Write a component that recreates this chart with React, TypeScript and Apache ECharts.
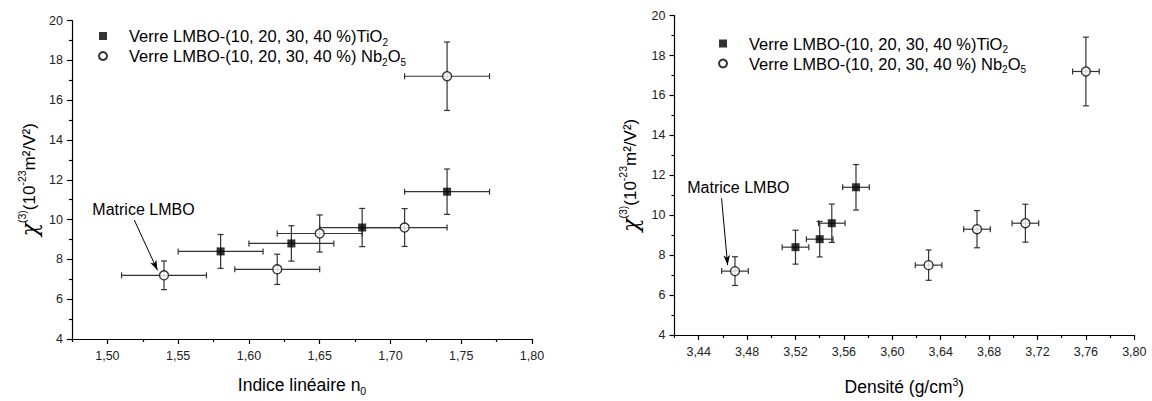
import { useEffect, useRef } from "react";
import * as echarts from "echarts";

// ---- data ----
const indiceTiO2 = [1.58, 1.63, 1.68, 1.74];
const indiceNb2O5 = [1.54, 1.62, 1.65, 1.71, 1.74];
const densiteTiO2 = [3.52, 3.54, 3.55, 3.57];
const densiteNb2O5 = [3.47, 3.63, 3.67, 3.71, 3.76];
const chiTiO2 = [8.4, 8.8, 9.6, 11.4];
const chiErrTiO2 = [0.85, 0.89, 0.96, 1.14];
const chiNb2O5 = [7.2, 7.5, 9.3, 9.6, 17.2];
const chiErrNb2O5 = [0.72, 0.76, 0.93, 0.95, 1.72];
const indiceErr = 0.03;
const densiteErr = 0.011;

// ---- tick labels ----
const indiceTicks = [1.5, 1.55, 1.6, 1.65, 1.7, 1.75, 1.8];
const indiceMinorTicks = [1.475, 1.525, 1.575, 1.625, 1.675, 1.725, 1.775];
const densiteTicks = [3.44, 3.48, 3.52, 3.56, 3.6, 3.64, 3.68, 3.72, 3.76, 3.8];
const densiteMinorTicks = [3.42, 3.46, 3.5, 3.54, 3.58, 3.62, 3.66, 3.7, 3.74, 3.78];

// annotation anchors (data space)
const matriceLeft = { text: [1.5255, 10.52], from: [1.519, 9.975], to: [1.5354, 7.45] };
const matriceRight = { text: [3.4728, 11.41], from: [3.4589, 10.85], to: [3.4639, 7.5] };

const SER_TI = "Verre LMBO-(10, 20, 30, 40 %)TiO2";
const SER_NB = "Verre LMBO-(10, 20, 30, 40 %) Nb2O5";
const FONT = "'Liberation Sans', Arial, Helvetica, sans-serif";
const CHI_FONT = "'DejaVu Serif', 'DejaVu Sans', serif";
const INK = "#000";
const BAR = "#333";

const fmtComma = (v: number) => v.toFixed(2).replace(".", ",");

function errorSeries(name: string, xs: number[], ys: number[], xe: number, ye: number[], xi: number, yi: number) {
  return {
    type: "custom",
    name,
    xAxisIndex: xi,
    yAxisIndex: yi,
    z: 1,
    silent: true,
    encode: { x: 0, y: 1 },
    data: xs.map((x, i) => [x, ys[i], xe, ye[i]]),
    renderItem: (params: any, api: any) => {
      const x = api.value(0);
      const y = api.value(1);
      const dx = api.value(2);
      const dy = api.value(3);
      const top = api.coord([x, y + dy]);
      const bot = api.coord([x, y - dy]);
      const lft = api.coord([x - dx, y]);
      const rgt = api.coord([x + dx, y]);
      const cap = 3;
      const st = { stroke: BAR, lineWidth: 1.2, fill: "none" };
      const ln = (x1: number, y1: number, x2: number, y2: number) => ({
        type: "line",
        shape: { x1, y1, x2, y2 },
        style: st,
      });
      return {
        type: "group",
        children: [
          ln(top[0], top[1], bot[0], bot[1]),
          ln(top[0] - cap, top[1], top[0] + cap, top[1]),
          ln(bot[0] - cap, bot[1], bot[0] + cap, bot[1]),
          ln(lft[0], lft[1], rgt[0], rgt[1]),
          ln(lft[0], lft[1] - cap, lft[0], lft[1] + cap),
          ln(rgt[0], rgt[1] - cap, rgt[0], rgt[1] + cap),
        ],
      };
    },
  };
}

function scatterSeries(name: string, xs: number[], ys: number[], xi: number, yi: number, filled: boolean, extra: any = {}) {
  return {
    type: "scatter",
    name,
    xAxisIndex: xi,
    yAxisIndex: yi,
    z: 3,
    symbol: filled ? "rect" : "circle",
    symbolSize: filled ? 8 : 9,
    itemStyle: filled
      ? { color: INK }
      : { color: "#fff", borderColor: INK, borderWidth: 1.3 },
    data: xs.map((x, i) => [x, ys[i]]),
    ...extra,
  };
}

function annotation(a: { text: number[]; from: number[]; to: number[] }) {
  return {
    markLine: {
      silent: true,
      symbol: ["none", "arrow"],
      symbolSize: [5, 10],
      lineStyle: { color: INK, width: 1, type: "solid" },
      label: { show: false },
      data: [[{ coord: a.from }, { coord: a.to }]],
    },
    markPoint: {
      silent: true,
      symbol: "circle",
      symbolSize: 0,
      label: {
        show: true,
        position: "inside",
        formatter: "Matrice LMBO",
        color: INK,
        fontFamily: FONT,
        fontSize: 16,
      },
      data: [{ coord: a.text, value: 0 }],
    },
  };
}

const legendRich = {
  t: { fontSize: 16.5, fontFamily: FONT, color: INK, lineHeight: 22 },
  s: { fontSize: 10, fontFamily: FONT, color: INK, lineHeight: 10, verticalAlign: "bottom" },
};
const legendFmt = (name: string) =>
  name === SER_TI
    ? "{t|Verre LMBO-(10, 20, 30, 40 %)TiO}{s|2}"
    : "{t|Verre LMBO-(10, 20, 30, 40 %) Nb}{s|2}{t|O}{s|5}";

function makeLegend(left: number, top: number) {
  return {
    left,
    top,
    orient: "vertical",
    itemWidth: 8,
    itemHeight: 8,
    itemGap: 0.5,
    padding: 0,
    selectedMode: false,
    data: [
      { name: SER_TI, icon: "rect" },
      { name: SER_NB, icon: "circle" },
    ],
    formatter: legendFmt,
    textStyle: { padding: [0, 0, 0, 17], rich: legendRich },
  };
}

const yName = "{chi|χ}{sup|(3)}{t|(10}{sup|-23}{t|m²/V²)}";
const yNameStyle = {
  color: INK,
  rich: {
    chi: { fontSize: 22, fontFamily: CHI_FONT, fontStyle: "italic", color: INK, lineHeight: 26 },
    t: { fontSize: 17, fontFamily: FONT, color: INK, lineHeight: 26 },
    sup: { fontSize: 10.5, fontFamily: FONT, color: INK, lineHeight: 10, verticalAlign: "top" },
  },
};

function mainX(grid: number, min: number, max: number, ticks: number[], name: string, gap: number, rich: any) {
  return {
    type: "value",
    gridIndex: grid,
    position: "bottom",
    min,
    max,
    name,
    nameLocation: "middle",
    nameGap: gap,
    nameTextStyle: { color: INK, rich },
    axisLine: { show: true, onZero: false, lineStyle: { color: INK, width: 1.2 } },
    axisTick: { show: true, length: 5, customValues: ticks, lineStyle: { color: INK, width: 1.2 } },
    axisLabel: {
      show: true,
      customValues: ticks,
      formatter: fmtComma,
      color: "#222",
      fontFamily: FONT,
      fontSize: 12.5,
      margin: 10,
    },
    splitLine: { show: false },
  };
}

function minorX(grid: number, min: number, max: number, ticks: number[]) {
  return {
    type: "value",
    gridIndex: grid,
    position: "bottom",
    min,
    max,
    axisLine: { show: false, onZero: false },
    axisTick: { show: true, length: 3, customValues: ticks, lineStyle: { color: INK, width: 1.2 } },
    axisLabel: { show: false },
    splitLine: { show: false },
  };
}

function mainY(grid: number, gap: number) {
  return {
    type: "value",
    gridIndex: grid,
    min: 4,
    max: 20,
    interval: 2,
    name: yName,
    nameLocation: "middle",
    nameRotate: 90,
    nameGap: gap,
    nameTextStyle: yNameStyle,
    axisLine: { show: true, onZero: false, lineStyle: { color: INK, width: 1.2 } },
    axisTick: { show: true, length: 5, lineStyle: { color: INK, width: 1.2 } },
    minorTick: { show: true, splitNumber: 2, length: 3, lineStyle: { color: INK, width: 1.2 } },
    axisLabel: { color: "#222", fontFamily: FONT, fontSize: 12.5, margin: 9 },
    splitLine: { show: false },
    minorSplitLine: { show: false },
  };
}

const nameRich = {
  t: { fontSize: 17.5, fontFamily: FONT, color: INK, lineHeight: 22 },
  sub: { fontSize: 10.5, fontFamily: FONT, color: INK, lineHeight: 10, verticalAlign: "bottom" },
  sup: { fontSize: 10.5, fontFamily: FONT, color: INK, lineHeight: 10, verticalAlign: "top" },
};

export default function App() {
  const ref = useRef<HTMLDivElement>(null);
  useEffect(() => {
    if (!ref.current) return;
    const chart = echarts.init(ref.current, undefined, { renderer: "svg" });
    chart.setOption({
      animation: false,
      backgroundColor: "#fff",
      textStyle: { fontFamily: FONT },
      grid: [
        { left: 72, top: 20.5, width: 460, height: 323.2 },
        { left: 674.5, top: 15.6, width: 459.8, height: 321.4 },
      ],
      xAxis: [
        mainX(0, 1.475, 1.8, indiceTicks, "{t|Indice linéaire n}{sub|0}", 35, nameRich),
        minorX(0, 1.475, 1.8, indiceMinorTicks),
        mainX(1, 3.42, 3.8, densiteTicks, "{t|Densité (g/cm}{sup|3}{t|)}", 41, nameRich),
        minorX(1, 3.42, 3.8, densiteMinorTicks),
      ],
      yAxis: [mainY(0, 30), mainY(1, 31)],
      legend: [makeLegend(98, 27.5), makeLegend(718, 35)],
      series: [
        scatterSeries(SER_TI, indiceTiO2, chiTiO2, 0, 0, true),
        scatterSeries(SER_NB, indiceNb2O5, chiNb2O5, 0, 0, false, annotation(matriceLeft)),
        scatterSeries(SER_TI, densiteTiO2, chiTiO2, 2, 1, true),
        scatterSeries(SER_NB, densiteNb2O5, chiNb2O5, 2, 1, false, annotation(matriceRight)),
        errorSeries("err-ti-n", indiceTiO2, chiTiO2, indiceErr, chiErrTiO2, 0, 0),
        errorSeries("err-nb-n", indiceNb2O5, chiNb2O5, indiceErr, chiErrNb2O5, 0, 0),
        errorSeries("err-ti-d", densiteTiO2, chiTiO2, densiteErr, chiErrTiO2, 2, 1),
        errorSeries("err-nb-d", densiteNb2O5, chiNb2O5, densiteErr, chiErrNb2O5, 2, 1),
      ],
    });
    return () => chart.dispose();
  }, []);
  return (
    <div
      ref={ref}
      style={{ position: "absolute", left: 0, top: 0, width: 1152, height: 401, background: "#fff" }}
    />
  );
}
